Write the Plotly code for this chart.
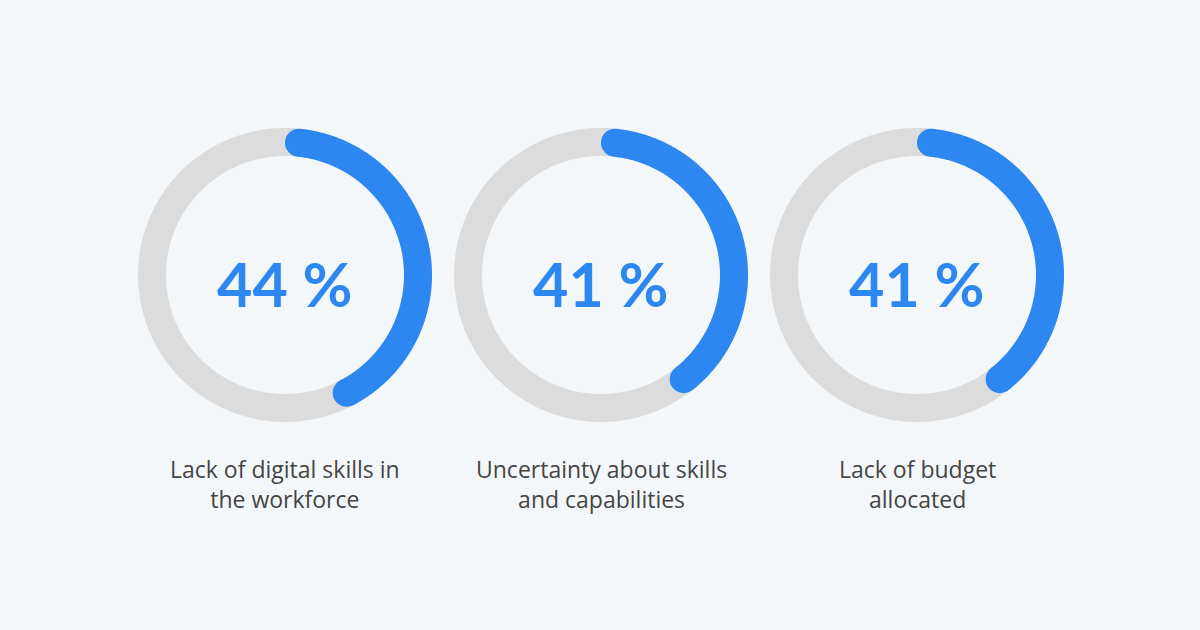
import numpy as np
import plotly.graph_objects as go

# ---- data ----
categories = [
    "Lack of digital skills in<br>the workforce",
    "Uncertainty about skills<br>and capabilities",
    "Lack of budget<br>allocated",
]
percent_values = [44, 41, 41]
value_labels = ["44 %", "41 %", "41 %"]

# ---- style ----
W, H = 1200, 630
BG = "#f4f7f9"
BLUE = "#2d87f0"
GRAY = "#dcdcdc"
TEXT = "#454545"
centers_x = [285, 601, 917]   # px
center_y = 275                # px
half = 150                    # half size of each polar domain, px
ring_r = 133                  # ring mid radius (radial units == px)
ring_w = 28                   # ring thickness, px
label_mid_y = 484             # px, vertical middle of the two-line labels

fig = go.Figure()
cap_deg = np.degrees((ring_w / 2) / ring_r)

for i, (cx, val, lab, cat) in enumerate(zip(centers_x, percent_values, value_labels, categories)):
    pid = "polar" if i == 0 else f"polar{i+1}"
    sub = pid
    # background ring
    th_full = np.linspace(0, 360, 361)
    fig.add_trace(go.Scatterpolar(
        r=np.full_like(th_full, ring_r), theta=th_full, mode="lines",
        line=dict(color=GRAY, width=ring_w), subplot=sub,
        hoverinfo="skip", showlegend=False))
    # value arc
    end = val * 3.6
    th = np.linspace(cap_deg, end - cap_deg, 200)
    fig.add_trace(go.Scatterpolar(
        r=np.full_like(th, ring_r), theta=th, mode="lines",
        line=dict(color=BLUE, width=ring_w), subplot=sub,
        hoverinfo="skip", showlegend=False))
    # rounded caps
    fig.add_trace(go.Scatterpolar(
        r=[ring_r, ring_r], theta=[th[0], th[-1]], mode="markers",
        marker=dict(color=BLUE, size=ring_w, line=dict(width=0)), subplot=sub,
        hoverinfo="skip", showlegend=False))

    x0 = (cx - half) / W
    x1 = (cx + half) / W
    y0 = 1 - (center_y + half) / H
    y1 = 1 - (center_y - half) / H
    fig.update_layout(**{pid: dict(
        domain=dict(x=[x0, x1], y=[y0, y1]),
        bgcolor="rgba(0,0,0,0)",
        radialaxis=dict(range=[0, half], visible=False),
        angularaxis=dict(visible=False, rotation=90, direction="clockwise"),
    )})

    # centre value label
    fig.add_annotation(x=cx / W, y=1 - 284 / H, xref="paper", yref="paper",
                       text=f"<b>{lab}</b>", showarrow=False,
                       font=dict(family="Lato, Open Sans, sans-serif", size=61, color=BLUE),
                       xanchor="center", yanchor="middle")
    # category label
    fig.add_annotation(x=cx / W, y=1 - label_mid_y / H, xref="paper", yref="paper",
                       text=cat, showarrow=False, align="center",
                       font=dict(family="Open Sans, Lato, sans-serif", size=23, color=TEXT),
                       xanchor="center", yanchor="middle")

fig.update_layout(
    width=W, height=H,
    margin=dict(l=0, r=0, t=0, b=0),
    paper_bgcolor=BG, plot_bgcolor=BG,
    showlegend=False,
)

fig.write_html("out.html", config={"displayModeBar": False},
               post_script="document.body.style.margin='0';document.body.style.background='%s';" % BG)
